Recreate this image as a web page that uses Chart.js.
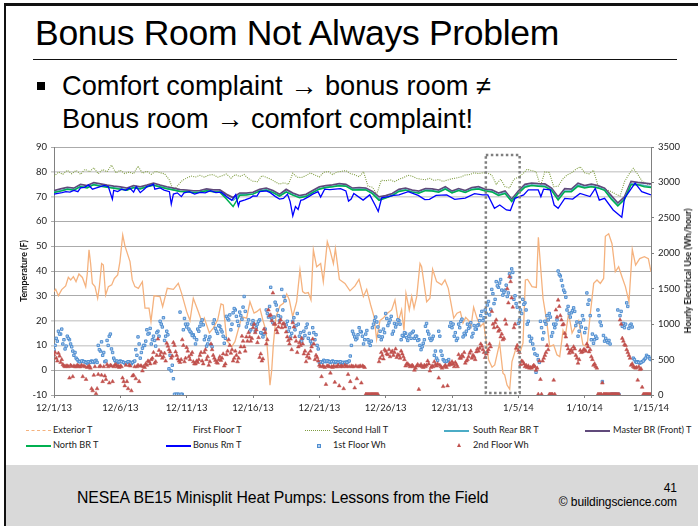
<!DOCTYPE html>
<html>
<head>
<meta charset="utf-8">
<title>Bonus Room Not Always Problem</title>
<script src="https://cdn.jsdelivr.net/npm/chart.js@4"></script>
<style>
  html, body { margin: 0; padding: 0; background: #fff; }
  #slide { position: relative; width: 698px; height: 526px; overflow: hidden; background: #fff; font-family: "Liberation Sans", Arial, sans-serif; color: #000; }
  #borderTop { position: absolute; left: 4px; top: 3px; right: 0; height: 3px; background: #111; }
  #borderLeft { position: absolute; left: 4px; top: 3px; bottom: 0; width: 2px; background: #111; }
  #title { position: absolute; left: 35px; top: 13px; font-size: 35.5px; line-height: 40px; white-space: nowrap; letter-spacing: -0.3px; }
  #rule { position: absolute; left: 33px; top: 59px; width: 644px; height: 1px; background: #111; }
  .bullet { position: absolute; left: 62px; font-size: 27.2px; line-height: 34px; white-space: nowrap; }
  #square { position: absolute; left: 37px; top: 82px; width: 8px; height: 8px; background: #000; }
  #chartBox { position: absolute; left: 0; top: 130px; }
  #rightTitle { position: absolute; left: 688px; top: 271px; transform: translate(-50%, -50%) rotate(-90deg); font-family: Lato, sans-serif; font-size: 8.8px; font-weight: bold; line-height: 12px; color: #111; white-space: nowrap; }
  #footer { position: absolute; left: 6px; right: 0; top: 465px; bottom: 0; background: #d9d9d9; }
  #footText { position: absolute; left: 77px; top: 488px; font-size: 15.8px; line-height: 20px; white-space: nowrap; letter-spacing: -0.1px; }
  #pageNo { position: absolute; right: 21px; top: 480px; font-size: 12px; line-height: 16px; }
  #credit { position: absolute; right: 21px; top: 494px; font-size: 12px; line-height: 16px; letter-spacing: -0.1px; }
  .lg { position: absolute; font-family: Lato, sans-serif; font-size: 9.2px; line-height: 12px; color: #222; white-space: nowrap; }
  .sw { position: absolute; }
</style>
</head>
<body>
<div id="slide">
  <div id="borderTop"></div><div id="borderLeft"></div>
  <div id="title">Bonus Room Not Always Problem</div>
  <div id="rule"></div>
  <div id="square"></div>
  <div class="bullet" style="top:69px">Comfort complaint → bonus room ≠</div>
  <div class="bullet" style="top:102px">Bonus room → comfort complaint!</div>
  <div id="chartBox"><canvas id="chart" width="698" height="290"></canvas></div>
  <div id="rightTitle">Hourly Electrical Use (Wh/hour)</div>
  <div id="legendBox"></div>
  <div id="footer"></div>
  <div id="footText">NESEA BE15 Minisplit Heat Pumps: Lessons from the Field</div>
  <div id="pageNo">41</div>
  <div id="credit">© buildingscience.com</div>
</div>
<script>
const xTickLabels = ['12/1/13','12/6/13','12/11/13','12/16/13','12/21/13','12/26/13','12/31/13','1/5/14','1/10/14','1/15/14'];
const seriesNames = ['Exterior T','First Floor T','Second Hall T','South Rear BR T','Master BR (Front) T','North BR T','Bonus Rm T','1st Floor Wh','2nd Floor Wh'];

// [day since 12/1/13, degrees F]
const exteriorT = [[0,31.7],[.13,32.6],[.33,30],[.58,32.5],[.88,34],[1.08,37.5],[1.26,36.4],[1.46,37.7],[1.66,35.7],[1.88,38.8],[2.14,37.4],[2.39,33.7],[2.51,39],[2.64,48.5],[2.76,43],[2.89,35],[3.09,33.7],[3.29,29],[3.42,33.7],[3.59,43],[3.72,42.4],[3.89,30.3],[4.1,33.7],[4.35,34.4],[4.55,37],[4.8,38.4],[4.97,43.8],[5.18,54.5],[5.35,50],[5.73,43.8],[5.9,36.4],[6.1,33.7],[6.36,33],[6.66,35.7],[6.86,25],[7.16,25],[7.31,19.6],[7.54,30],[7.99,29.7],[8.19,25.6],[8.54,33],[9,32.6],[9.37,35],[9.62,31],[10,23.6],[10.25,20],[10.5,29],[10.88,23.6],[11.18,19],[11.33,21],[11.71,15],[12,17],[12.34,20.3],[12.59,26.7],[12.76,26.3],[13.02,12],[13.4,9.5],[13.64,11.5],[14.15,21.5],[14.52,21],[14.77,27.6],[15.08,23],[15.28,23.6],[15.53,24.7],[15.78,19.5],[15.98,16],[16.16,2.8],[16.28,-6],[16.41,0],[16.53,10],[16.73,21.6],[17.04,26],[17.29,27],[17.54,30.7],[17.74,28.3],[17.99,21.6],[18.29,27.6],[18.54,40.4],[18.74,31.7],[18.92,31],[19.17,31.3],[19.37,28.3],[19.55,48.5],[19.8,41.7],[20.1,43],[20.3,35.7],[20.6,51.8],[20.8,48.5],[21.06,43],[21.21,49],[21.36,43],[21.51,36.6],[21.93,35],[22.31,32],[22.69,34],[22.99,36.6],[23.32,29.7],[23.57,32.6],[23.87,26.3],[24.12,21.6],[24.32,12.5],[24.57,20],[24.82,21],[25.13,23],[25.45,24.3],[25.7,28.3],[25.95,19.6],[26.2,24.3],[26.38,16],[26.53,31],[26.78,24.3],[26.96,29.7],[27.14,25],[27.34,29.7],[27.59,43],[27.71,41.7],[28.09,27.6],[28.34,29],[28.54,40.7],[28.84,35.7],[29.22,34.4],[29.47,36.4],[29.72,33],[30.13,21],[30.38,23],[30.63,23.6],[30.83,19],[31.03,21.3],[31.26,20],[31.43,17.6],[31.63,25.4],[31.88,21],[32.14,17.6],[32.39,19],[32.59,10.9],[32.76,4.2],[33.02,1.2],[33.22,2.1],[33.59,10.9],[33.84,-1.2],[33.97,-1.9],[34.15,-6],[34.35,-7.7],[34.52,3.5],[34.9,10.2],[35.1,6.8],[35.35,10.9],[35.53,36.4],[35.7,36.6],[36.03,33.7],[36.36,33.4],[36.51,53.6],[36.66,43],[36.86,29],[37.16,19],[37.36,9.5],[37.66,10.2],[37.91,6.2],[38.12,5.5],[38.37,16],[38.54,13.6],[38.79,23],[39.05,15],[39.3,17.6],[39.55,20],[39.87,10.2],[40.18,9.5],[40.43,23],[40.68,35],[40.93,36.4],[41.18,35],[41.43,37],[41.56,54],[41.81,55],[42.06,51],[42.31,39.7],[42.56,41.7],[42.81,37.7],[43.07,33.7],[43.34,27.6],[43.59,48.7],[43.84,42.4],[44.15,45],[44.5,45.8],[44.8,45],[45,39.7]];

// one reading every 1/3 day
const secondHallT = [
78.2,79.9,79, 80.6,79.2,80.6, 79,81,80, 81.6,79.2,80.9, 80,82.7,79.6,
80.6,79.3,79.9, 79.2,82.3,79.4, 80.2,79,80.2, 79.6,79.2,77, 72.5,74.5,76.5,
77.5,78.3,77.9, 78.6,77.8,78.7, 78.9,77.8,78.4, 79.1,77.4,78.9, 78.1,78.9,77.2,
76.2,76,78.4, 77.8,77,76, 75,75.6,74.9, 79.4,77.8,77.7, 78.5,79.6,78.7,
77.9,79.8,80.1, 78.9,79.9,80.2, 80.5,79.3,78.8, 78,80,74.2, 73.8,71,76.6,
76.4,76.8,76, 77,77.6,78.6, 78.2,77.4,77, 76.8,77.4,76.5, 76.9,76.1,76.7,
77.2,77.5,77.9, 78.7,78.9,79.6, 79.3,79.6,79.5, 78.7,75,77, 74,73.5,77,
77.8,79.2,81, 80.5,80,74.2, 80,79.7,74, 74.2,77,78.7, 79.5,81,82,
79.6,79.2,80.6, 74.5,73.5,72.7, 72,71,70.2, 76,79,81.4, 79,76.2,75.2, 74.7];

// one reading every 1/2 day
const southRearT = [
71.8,72.4,73.1,72.8,74.2,73.8,75,74.4,74,73.6,
73.2,72.8,73.8,73.3,74,74.8,74,73.4,72.8,72.2,
72.1,71.8,71.9,72.5,72.1,72,69.8,68.5,70.8,70.8,
71.1,72.3,72.8,71.8,70.3,72,70.8,69.8,70.2,71.8,
73.2,73.8,74.1,74.6,74.3,72.9,73,72.9,71.4,69,
69.6,70.6,72.3,72.8,72,71.6,72.6,72.5,72,73.3,
71.6,72.6,71.8,73,73.4,72.4,72.1,70.8,71.5,68.2,
71.5,74.2,74.7,74.5,74.3,72.7,69,72.3,72.3,74.6,
73.8,74.3,73.7,72.7,69.4,66.5,69,75.2,75,74.5,74];
const masterT = [
72.4,73.1,73.7,73.4,74.9,74.4,75.6,75.1,74.6,74.2,
73.9,73.4,74.4,73.9,74.6,75.4,74.6,73.9,73.4,72.8,
72.6,72.3,72.4,73.1,72.7,72.7,70.9,69.6,71.4,71.4,
71.7,72.9,73.4,72.4,70.9,72.9,71.4,70.4,70.9,72.4,
73.9,74.4,74.7,75.2,74.9,73.4,73.6,73.4,72.1,69.9,
70.4,71.2,72.9,73.4,72.6,72.2,73.2,73.1,72.6,74,
72.2,73.2,72.4,73.6,74,72.9,72.7,71.4,72.2,68.9,
72.2,74.9,75.4,75.2,75.1,73.4,69.8,73.2,73,75.4,
74.4,75,74.4,73.4,70.4,67.4,69.9,76.1,75.7,75.4,75.1];
const northT = [
71.6,72.2,73,72.6,74,73.5,74.8,74.2,73.8,73.4,
73,72.6,73.6,73.1,74,74.6,73.9,73.2,72.7,72.1,
72,71.6,71.8,72.4,72,71.8,69,66,70.5,70.6,
71,72.2,72.6,71.6,70.2,71.8,70.6,69.5,70,71.6,
73,73.7,74,74.4,74.2,72.7,72.8,72.7,71.2,68.5,
69.4,70.4,72.1,72.6,71.8,71.4,72.4,72.3,71.8,73,
71.5,72.4,71.7,72.8,73.1,72.3,71.9,70.5,71.2,68,
71.3,73.8,74.5,74.2,74,72.5,68.6,72,72,74.2,
73.5,74,73.5,72.5,69,66.2,68.8,74.8,74.8,74,73.7];

// [day since 12/1/13, degrees F]
const bonusRmT = [[0,71],[.3,71.3],[.6,71.6],[.9,72],[1.2,71.8],[1.5,72.5],[1.8,72],[2,73.5],[2.3,73.7],[2.6,74.7],[2.9,73],[3.2,73.5],[3.5,74],[3.8,74.5],[4.1,74],[4.4,69],[4.5,72.5],[4.8,72],[5.1,73],[5.4,72.5],[5.7,73.5],[6,71.8],[6.2,74],[6.5,71.6],[6.8,73],[7,74],[7.3,74.5],[7.5,75],[7.6,73],[8,73.5],[8.3,72.6],[8.7,72],[8.84,67],[9,71],[9.3,71.5],[9.6,70],[9.8,71.5],[10.2,72],[10.6,71],[11,71.7],[11.4,71.5],[11.8,72.4],[12.2,71.6],[12.6,71.8],[13,70],[13.4,68.5],[13.7,70.8],[13.9,66.2],[14,68],[14.4,68.7],[14.8,69.5],[15,70.3],[15.3,70.2],[15.5,72],[16,72.3],[16.3,71.6],[16.7,70],[17,69],[17.3,69.3],[17.6,71],[17.8,68],[18,62.2],[18.2,66],[18.4,64.8],[18.6,68.5],[18.8,68.8],[19.2,70],[19.5,71],[19.9,72],[20.1,69.8],[20.4,73],[20.8,72.8],[21.2,73],[21.6,73.2],[22,72.3],[22.2,68.2],[22.4,69],[22.6,71.3],[23.3,68.6],[23.8,70.7],[24.2,66.6],[24.44,64],[24.7,69.5],[25.2,70],[25.6,70.5],[26,70.7],[26.7,72],[27.2,71],[27.45,70.5],[27.95,68.8],[28.3,68.9],[28.8,70.5],[29.6,70.7],[30.2,68.9],[31,69.4],[31.7,71.2],[32.3,70.7],[32.7,70.7],[33.2,65.3],[33.6,66.6],[34.1,64.6],[34.4,64.4],[34.75,69.3],[35.4,70.7],[35.75,72.7],[36.5,72.7],[36.7,70],[36.9,73],[37.4,72.7],[37.7,66.6],[38,65.3],[38.5,69.3],[39.1,69],[39.65,71.3],[40.4,70],[40.8,73.3],[41.1,68.6],[41.5,69.3],[42.15,64.6],[42.8,61.7],[43,69.3],[43.8,75.4],[44.3,72],[45,70.7]];

// one reading every 1/6 day, one row per day
const firstFloorWh = [
640,800,900,860,720,650,
830,780,680,560,520,480,
470,480,470,450,470,480,
460,490,700,620,560,470,
770,830,650,520,470,460,
480,470,450,460,470,440,
470,640,820,520,660,700,
920,870,720,830,690,900,
1040,960,770,900,370,340,
230,10,10,1170,10,1080,
960,930,880,850,720,930,
970,1060,780,690,780,710,
1010,940,870,970,890,730,
1110,1060,920,1160,1200,1040,
1170,1070,1390,960,1060,920,
1050,900,1000,1060,870,860,
1200,1100,1520,1020,1310,1200,
1050,1490,1390,990,900,820,
1040,920,1150,830,760,900,
950,800,760,950,780,700,
460,470,490,470,480,460,
480,460,470,460,450,460,
465,470,550,900,820,800,
950,890,720,860,780,700,
950,1050,1030,830,780,930,
1150,980,1060,860,1010,1000,
1050,780,830,870,770,860,
880,800,830,780,640,730,
970,900,800,790,560,520,
900,620,500,470,480,970,
950,830,770,1000,1040,820,
850,1000,960,820,980,930,
990,1120,1050,1200,1270,1130,
1490,1290,1600,1520,1630,1410,
1480,1390,1710,1780,1350,1290,
1010,1200,1350,1300,1000,830,
800,650,320,500,1040,790,
1040,1120,1150,830,1000,1000,
1750,1680,1540,1450,1200,1150,
1160,1230,980,830,1020,1120,
880,1440,1340,780,730,830,
1200,1030,190,760,770,770,
10,10,10,1200,1120,970,
950,1300,940,1000,520,470,
470,450,470,500,560,540,
500];
// the readings that fall between those above
const firstFloorWhBetween = [
700,760,860,930,780,690,
800,720,620,600,500,470,
480,470,460,470,460,470,
480,460,640,750,600,480,
700,860,600,490,480,470,
470,460,450,470,450,460,
480,560,720,600,700,760,
860,940,780,770,880,830,
1000,1090,830,850,560,420,
10,10,10,10,920,1000,
1000,900,840,810,780,900,
1020,990,830,720,820,680,
1060,900,980,920,830,800,
1080,1130,1000,1220,1110,980,
1120,1240,1180,1010,900,1000,
1000,950,1040,880,820,930,
1150,1250,1080,1100,1270,1120,
1100,1200,1330,1040,950,870,
1090,980,1000,880,800,840,
1000,870,720,880,850,650,
470,460,480,480,470,470,
470,470,460,470,460,450,
460,480,700,860,780,850,
900,830,780,910,740,760,
1000,1100,960,900,820,880,
1080,1020,1110,900,960,1060,
1000,840,880,810,830,800,
900,830,770,700,680,780,
1010,860,770,830,620,490,
830,560,480,480,500,1020,
1000,880,800,950,1070,870,
900,940,1020,870,930,980,
1050,1180,1090,1150,1320,1210,
1430,1350,1540,1580,1480,1450,
1550,1440,1660,1730,1400,1240,
1060,1150,1280,1200,1040,760,
720,580,560,460,950,880,
1000,1060,1100,880,950,1060,
1700,1620,1480,1380,1250,1100,
1190,1180,1030,900,960,1060,
940,1280,1120,860,780,800,
1120,980,840,800,740,720,
10,10,10,10,1180,1010,
1000,1250,980,960,500,460,
460,460,480,520,540,510];
const secondFloorWh = [
570,520,590,460,430,400,
410,240,405,410,400,410,
400,260,400,390,410,90,
280,20,290,410,190,270,
430,170,410,400,430,410,
410,240,130,190,420,60,
280,230,420,410,340,390,
420,470,500,600,470,790,
560,520,590,730,640,520,
740,610,510,460,780,470,
670,540,570,470,440,460,
560,480,600,500,420,720,
560,490,450,540,520,410,
570,780,590,480,620,470,
600,830,680,820,880,760,
950,880,740,530,480,930,
720,1200,1130,1440,1000,880,
1020,950,1010,890,770,790,
1020,820,600,740,800,580,
470,580,620,790,500,530,
420,260,400,150,410,310,
390,180,400,130,410,90,
400,290,190,400,100,230,
400,170,400,10,10,10,
10,10,10,470,600,510,
620,570,540,620,600,530,
560,620,540,410,440,400,
420,350,410,80,430,390,
400,480,340,410,470,410,
240,400,120,420,130,450,
470,400,430,570,520,540,
450,500,590,520,540,610,
620,720,640,530,610,720,
1180,950,1060,900,820,780,
1060,1500,1670,1370,950,660,
630,430,470,400,390,380,
380,420,350,10,220,480,
560,700,10,10,210,1200,
1340,1120,990,870,700,590,
640,680,560,450,630,610,
640,720,610,540,420,400,
10,10,170,10,10,10,
10,10,10,10,1060,800,
710,640,560,420,400,380,
210,360,110,10,10,10,
10];
const secondFloorWhBetween = [
600,480,550,500,410,410,
400,420,260,400,420,400,
420,410,220,400,380,60,
400,90,400,280,400,220,
400,420,190,420,400,390,
400,190,420,90,410,270,
400,400,190,410,400,440,
480,440,520,450,560,630,
600,540,480,690,610,550,
700,560,480,500,700,520,
620,500,600,440,480,500,
600,440,640,540,470,640,
520,460,500,490,580,440,
620,700,640,520,560,520,
680,760,620,760,820,800,
1000,920,810,580,510,880,
780,1120,1050,1000,920,960,
1060,1000,960,820,720,640,
960,760,680,700,720,620,
540,520,680,720,560,480,
400,410,390,410,400,400,
410,400,420,400,400,420,
410,400,410,400,410,400,
410,410,390,10,10,10,
10,10,10,520,560,640,
580,640,600,560,650,570,
520,580,500,440,420,410,
400,380,430,410,400,420,
420,440,390,400,430,440,
420,380,400,390,420,430,
440,460,400,520,560,600,
480,540,620,560,500,650,
660,690,600,580,640,680,
1000,1020,960,920,860,800,
1000,1300,1600,1240,1000,700,
600,480,440,420,410,390,
400,400,380,480,10,520,
600,640,10,10,10,1100,
1250,1060,1000,820,650,620,
600,650,520,500,600,640,
620,680,640,500,440,380,
10,10,10,10,10,10,
10,10,10,10,1000,760,
700,600,520,440,390,390,
400,370,10,10,10,10];

// the dotted highlight box
const boxDays = [32.55,35.1,35.1,32.55,32.55];
const boxTemps = [86.8,86.8,-9.2,-9.2,86.8];

const onEvery = (values, perDay, shift = 0) => values.map((v, i) => ({ x: (i + shift) / perDay, y: v }));
const fromPairs = pairs => pairs.map(p => ({ x: p[0], y: p[1] }));
const lineBase = { showLine: true, pointRadius: 0, tension: 0, yAxisID: 'y' };
const firstFloorPoints = onEvery(firstFloorWh, 6).concat(onEvery(firstFloorWhBetween, 6, 0.5));
const secondFloorPoints = onEvery(secondFloorWh, 6).concat(onEvery(secondFloorWhBetween, 6, 0.5));

const datasets = [
  { ...lineBase, label: seriesNames[0], data: fromPairs(exteriorT), borderColor: '#f5b27e', borderWidth: 1.3, order: 9 },
  { ...lineBase, label: seriesNames[2], data: onEvery(secondHallT, 3), borderColor: '#7f9c40', borderWidth: 1.1, borderDash: [1, 1.2], order: 8 },
  { ...lineBase, label: seriesNames[3], data: onEvery(southRearT, 2), borderColor: '#4bacc6', borderWidth: 1.5, order: 6 },
  { ...lineBase, label: seriesNames[4], data: onEvery(masterT, 2), borderColor: '#604a7b', borderWidth: 1.8, order: 7 },
  { ...lineBase, label: seriesNames[5], data: onEvery(northT, 2), borderColor: '#00b050', borderWidth: 1.5, order: 5 },
  { ...lineBase, label: seriesNames[6], data: fromPairs(bonusRmT), borderColor: '#0000ff', borderWidth: 1.3, order: 4 },
  { label: seriesNames[7], data: firstFloorPoints, yAxisID: 'y1', showLine: false, pointStyle: 'rect', pointRadius: 1.7, borderWidth: 1, pointBorderColor: '#4f8ed0', pointBackgroundColor: '#b5cfee', order: 3 },
  { label: seriesNames[8], data: secondFloorPoints, yAxisID: 'y1', showLine: false, pointStyle: 'triangle', pointRadius: 2.2, borderWidth: 0.5, pointBorderColor: '#c0504d', pointBackgroundColor: '#c0504d', order: 2 },
  { ...lineBase, label: 'box', data: boxDays.map((d, i) => ({ x: d, y: boxTemps[i] })), borderColor: '#7f7f7f', borderWidth: 2.5, borderDash: [2.5, 2.5], order: 1 }
];

const paleGrid = new Set([80, 70, 20, 10]);
new Chart(document.getElementById('chart'), {
  type: 'scatter',
  data: { datasets },
  options: {
    responsive: false,
    animation: false,
    layout: { padding: { top: 17, left: 0, right: 0, bottom: 0 } },
    plugins: { legend: { display: false }, tooltip: { enabled: false }, title: { display: false } },
    scales: {
      x: {
        type: 'linear', min: 0, max: 45,
        border: { color: '#808080' },
        grid: { drawOnChartArea: false, drawTicks: true, tickLength: 3, color: '#808080' },
        afterBuildTicks: s => { s.ticks = xTickLabels.map((_, i) => ({ value: i * 5 })); },
        ticks: { callback: v => xTickLabels[v / 5], autoSkip: false, maxRotation: 0, minRotation: 0, font: { family: 'Lato', size: 9.5 }, color: '#222', padding: 4 },
        afterFit: s => { s.height = 25; }
      },
      y: {
        position: 'left', min: -10, max: 90,
        border: { color: '#808080' },
        grid: {
          color: c => paleGrid.has(c.tick && c.tick.value) ? '#d2d2d2' : '#ababab',
          lineWidth: c => paleGrid.has(c.tick && c.tick.value) ? 1.6 : 1,
          tickLength: 3
        },
        ticks: { stepSize: 10, font: { family: 'Lato', size: 9.5 }, color: '#222', padding: 4 },
        title: { display: true, text: 'Temperature (F)', font: { family: 'Lato', size: 8.8, weight: 'bold' }, color: '#111', padding: { top: 19, bottom: 0 } },
        afterFit: s => { s.width = 54; }
      },
      y1: {
        position: 'right', min: 0, max: 3500,
        border: { color: '#808080' },
        grid: { drawOnChartArea: false, tickLength: 3, color: '#808080' },
        ticks: { stepSize: 500, callback: v => String(v), font: { family: 'Lato', size: 9.5 }, color: '#222', padding: 4 },
        afterFit: s => { s.width = 47; }
      }
    }
  }
});

// legend: five columns, two rows, below the chart
const legendCells = [
  { name: seriesNames[0], sw: 26, tx: 53, y: 424, line: '1px dashed #f5b27e' },
  { name: seriesNames[1], tx: 193, y: 424 },
  { name: seriesNames[2], sw: 305, tx: 333, y: 424, line: '1px dotted #7f9c40' },
  { name: seriesNames[3], sw: 444, tx: 473, y: 424, line: '2px solid #4bacc6' },
  { name: seriesNames[4], sw: 585, tx: 613, y: 424, line: '2px solid #604a7b' },
  { name: seriesNames[5], sw: 26, tx: 53, y: 439, line: '2px solid #00b050' },
  { name: seriesNames[6], sw: 166, tx: 193, y: 439, line: '2px solid #0000ff' },
  { name: seriesNames[7], tx: 333, y: 439, mark: 'rect', mx: 317 },
  { name: seriesNames[8], tx: 473, y: 439, mark: 'tri', mx: 457 }
];
const box = document.getElementById('legendBox');
legendCells.forEach(c => {
  const t = document.createElement('div');
  t.className = 'lg';
  t.textContent = c.name;
  t.style.left = c.tx + 'px';
  t.style.top = c.y + 'px';
  box.appendChild(t);
  if (c.line) {
    const s = document.createElement('div');
    s.className = 'sw';
    s.style.cssText += `left:${c.sw}px;top:${c.y + 6}px;width:25px;border-top:${c.line}`;
    box.appendChild(s);
  }
  if (c.mark === 'rect') {
    const s = document.createElement('div');
    s.className = 'sw';
    s.style.cssText += `left:${c.mx}px;top:${c.y + 5}px;width:2px;height:2px;border:1px solid #4f8ed0;background:#b5cfee`;
    box.appendChild(s);
  }
  if (c.mark === 'tri') {
    const s = document.createElement('div');
    s.className = 'sw';
    s.style.cssText += `left:${c.mx}px;top:${c.y + 4}px;width:0;height:0;border-left:2px solid transparent;border-right:2px solid transparent;border-bottom:4px solid #c0504d`;
    box.appendChild(s);
  }
});
</script>
</body>
</html>
